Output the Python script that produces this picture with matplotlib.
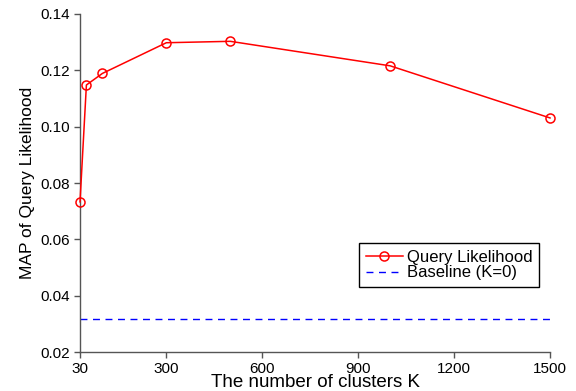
import matplotlib
matplotlib.use("Agg")
import matplotlib.pyplot as plt

# MAP of query likelihood for different numbers of clusters
clusters = [30, 50, 100, 300, 500, 1000, 1500]
map_scores = [0.0733, 0.1148, 0.1189, 0.1298, 0.1303, 0.1216, 0.1031]
baseline_map = 0.0317

x_ticks = [30, 300, 600, 900, 1200, 1500]
y_ticks = [0.02, 0.04, 0.06, 0.08, 0.10, 0.12, 0.14]


def main():
    plt.rcParams['font.family'] = ['Liberation Sans', 'DejaVu Sans']
    fig = plt.figure(figsize=(5.76, 3.91), dpi=100)
    ax = fig.add_axes([0.1389, 0.0997, 0.816, 0.8645])

    ax.plot(clusters, map_scores, color='red', linewidth=1.1, marker='o',
            markersize=6.5, markerfacecolor='none', markeredgecolor='red',
            markeredgewidth=1.1, label='Query Likelihood', clip_on=False,
            zorder=3)
    ax.plot([clusters[0], clusters[-1]], [baseline_map, baseline_map],
            color='blue', linestyle=(0, (5, 4)), linewidth=1.0,
            label='Baseline (K=0)')

    ax.set_xlim(30, 1500)
    ax.set_ylim(0.02, 0.14)
    ax.set_xticks(x_ticks)
    ax.set_xticklabels([str(t) for t in x_ticks])
    ax.set_yticks(y_ticks)
    ax.set_yticklabels([f"{t:.2f}" for t in y_ticks])

    for side in ['top', 'right']:
        ax.spines[side].set_visible(False)
    for side in ['left', 'bottom']:
        ax.spines[side].set_color('#555555')
        ax.spines[side].set_linewidth(1.0)
    ax.tick_params(axis='both', colors='#555555', labelcolor='black',
                   labelsize=11, length=4, width=1.0, direction='out',
                   pad=3)

    ax.set_xlabel('The number of clusters K', fontsize=13.5, labelpad=-1)
    ax.set_ylabel('MAP of Query Likelihood', fontsize=12.5, labelpad=4)

    leg = ax.legend(loc='lower right', bbox_to_anchor=(0.9766, 0.192),
                    fontsize=12, frameon=True, fancybox=False,
                    edgecolor='black', framealpha=1, borderpad=0.4,
                    handlelength=2.2, handletextpad=0.25, labelspacing=0.05,
                    borderaxespad=0)
    leg.get_frame().set_linewidth(1.0)

    fig.savefig('out.png', dpi=100)


if __name__ == "__main__":
    main()
